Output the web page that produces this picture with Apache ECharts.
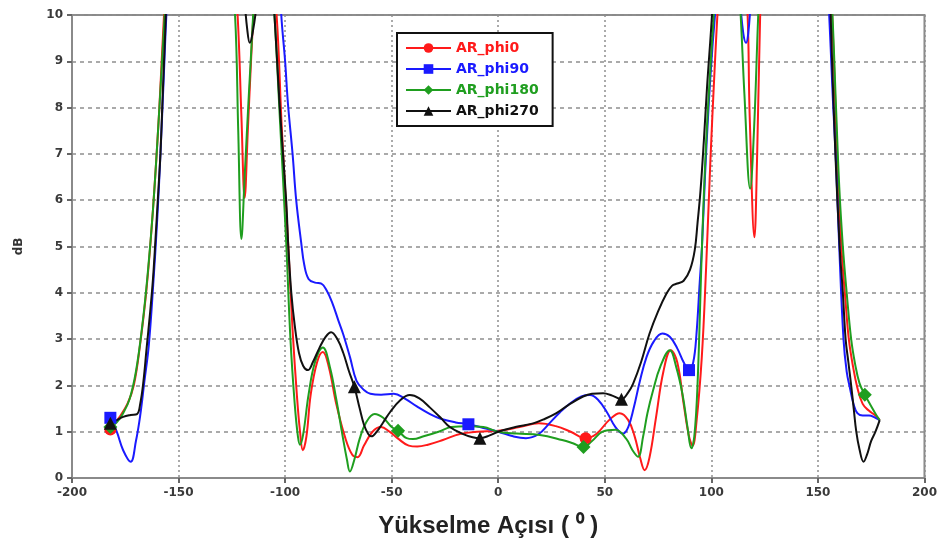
<!DOCTYPE html>
<html>
<head>
<meta charset="utf-8">
<script src="https://cdn.jsdelivr.net/npm/echarts@6/dist/echarts.min.js"></script>
<style>
  html, body { margin: 0; padding: 0; background: #fff; }
  #main { width: 940px; height: 545px; }
</style>
</head>
<body>
<div id="main"></div>
<script>
// elevation angle (deg) vs axial ratio (dB)
const seriesNames = ['AR_phi0', 'AR_phi90', 'AR_phi180', 'AR_phi270'];
const seriesColors = ['#ff1a1a', '#1a1aff', '#1f9e1f', '#111111'];
const seriesSymbols = ['circle', 'rect', 'diamond', 'triangle'];

const arPhi0 = [
  [-182, 1.05], [-178, 1.3], [-174, 1.6], [-171, 2.0], [-168, 2.9], [-165, 4.1], [-162, 5.8],
  [-159, 8.0], [-156.5, 10.3], [-154, 12], [-140, 13], [-126, 12.5], [-122.3, 10], [-120.5, 7.8],
  [-119, 6.05], [-117.5, 7.5], [-116, 9], [-114.5, 10.3], [-112, 12], [-108, 12], [-104, 10],
  [-101.5, 7.5], [-98.5, 5], [-96.5, 3.2], [-94.5, 1.8], [-93, 1.0], [-91.7, 0.6], [-90, 0.9],
  [-88, 1.8], [-85, 2.5], [-82.3, 2.72], [-79.5, 2.4], [-76, 1.6], [-72, 0.9], [-68.5, 0.5],
  [-66, 0.45], [-63, 0.7], [-59, 1.0], [-55, 1.1], [-51, 1.0], [-47, 0.85], [-42, 0.7],
  [-38, 0.68], [-33, 0.72], [-26, 0.82], [-18, 0.95], [-10, 1.0], [0, 1.02], [10, 1.1],
  [19, 1.18], [27, 1.12], [34, 1.0], [41, 0.86], [46, 0.95], [52, 1.25], [57, 1.4], [61, 1.25],
  [64, 0.9], [66.5, 0.45], [68.7, 0.17], [71, 0.45], [74, 1.3], [77.5, 2.3], [81, 2.76],
  [84, 2.5], [87, 1.6], [89.5, 0.9], [91.2, 0.7], [93, 1.2], [95.5, 2.6], [97.5, 4.5],
  [99.5, 6.8], [101.5, 8.8], [103.5, 10.5], [106, 12], [112, 12.5], [116.5, 10.5], [118, 7.8],
  [120.2, 5.2], [121.5, 7], [122.9, 10], [124.5, 12], [140, 13], [153, 12], [155.5, 11],
  [157.5, 9], [159, 7], [161, 5], [163, 3.8], [164.5, 3], [166.5, 2.4], [168.5, 1.95],
  [171, 1.6], [174, 1.45], [177, 1.35], [179, 1.25]
];
const arPhi90 = [
  [-182, 1.3], [-179, 1.0], [-176, 0.6], [-172.5, 0.35], [-170, 0.8], [-168, 1.35], [-166, 2.1],
  [-164, 2.85], [-162, 4.1], [-160, 5.6], [-158.5, 7.0], [-157, 8.6], [-155.5, 10.2], [-153, 12],
  [-140, 13], [-125, 13], [-112, 13], [-104, 12], [-101.8, 10], [-100, 9], [-98.7, 8.1],
  [-96.5, 7], [-94.8, 6], [-92.5, 5.1], [-91, 4.6], [-89, 4.3], [-86, 4.22], [-83, 4.2],
  [-80.5, 4.05], [-78, 3.8], [-75, 3.4], [-72.7, 3.1], [-69.5, 2.6], [-66.5, 2.1], [-63, 1.9],
  [-60, 1.82], [-55, 1.8], [-49, 1.82], [-44, 1.72], [-38, 1.54], [-32, 1.38], [-27, 1.28],
  [-20, 1.2], [-14, 1.16], [-7, 1.08], [0, 1.0], [7, 0.9], [13, 0.86], [19, 0.95], [24, 1.18],
  [29, 1.42], [34, 1.62], [39, 1.76], [43, 1.79], [47, 1.68], [51, 1.42], [55, 1.1],
  [58.5, 0.96], [61, 1.1], [63.5, 1.5], [66.5, 2.1], [69.5, 2.6], [73, 2.95], [77, 3.12],
  [80.5, 3.05], [84, 2.8], [87, 2.5], [89.5, 2.33], [91.5, 2.5], [93, 3.1], [94.5, 4.2],
  [95.6, 5], [97, 6.5], [98.8, 8.1], [100.5, 9.3], [102, 10.2], [104, 12], [110, 12.5],
  [113.5, 10.3], [115, 9.6], [116.3, 9.4], [117.3, 9.6], [118.5, 10.3], [121, 12], [140, 13],
  [153, 12], [155, 10.3], [157, 8.2], [158.5, 6.8], [160, 5], [162, 3], [163.5, 2.3],
  [165, 1.95], [166.7, 1.6], [168.5, 1.4], [171, 1.35], [174, 1.35], [177, 1.3], [179, 1.25]
];
const arPhi180 = [
  [-182, 1.1], [-179, 1.2], [-176, 1.4], [-173, 1.7], [-170, 2.3], [-167, 3.3], [-164.5, 4.4],
  [-162, 5.8], [-159.5, 7.6], [-157, 9.6], [-155.5, 10.8], [-153, 12], [-140, 13], [-127, 12],
  [-123.5, 10], [-122, 7.5], [-120.5, 5.16], [-119, 6.5], [-117, 8.3], [-115, 10], [-113, 12],
  [-108, 12], [-105, 10], [-102.5, 7.8], [-99.5, 5.1], [-97.5, 3], [-95.5, 1.6], [-94, 0.9],
  [-93, 0.72], [-91.5, 0.95], [-89, 1.8], [-86, 2.5], [-82.3, 2.82], [-79, 2.4], [-76, 1.7],
  [-73, 0.9], [-71, 0.4], [-69.6, 0.14], [-67.5, 0.4], [-65, 0.85], [-62, 1.2], [-58, 1.38],
  [-54, 1.3], [-50, 1.1], [-47, 1.02], [-43, 0.86], [-40, 0.84], [-35, 0.9], [-28, 1.0],
  [-22, 1.1], [-14, 1.12], [-7, 1.1], [0, 1.0], [8.6, 0.96], [19.5, 0.93], [30, 0.82],
  [35, 0.75], [40, 0.67], [44, 0.8], [49, 1.0], [55, 1.04], [60, 0.85], [63, 0.6], [65.6, 0.46],
  [68, 0.9], [70, 1.4], [72.7, 1.9], [76, 2.4], [80.5, 2.76], [83.5, 2.4], [86.5, 1.8],
  [88.8, 1.1], [90.6, 0.64], [92, 0.9], [93.5, 2], [95.6, 5], [97.5, 7.2], [100, 9.2],
  [101.5, 10.3], [103, 12], [110, 12.5], [113.5, 10.2], [115.5, 8.3], [118.2, 6.25], [120, 7.5],
  [122, 10], [124, 12], [140, 13], [154, 12], [156.5, 10.3], [158.5, 8], [160, 6.3],
  [161.7, 5], [163.5, 4], [165.6, 3], [167.5, 2.45], [169.5, 2.05], [172, 1.8], [175, 1.55],
  [177.5, 1.35], [179, 1.25]
];
const arPhi270 = [
  [-182, 1.18], [-179, 1.25], [-176, 1.32], [-172.5, 1.36], [-169.5, 1.38], [-168, 1.6],
  [-166.5, 2.08], [-165, 2.8], [-163.3, 3.6], [-162, 4.3], [-160.9, 5.1], [-159.5, 6.2],
  [-158.5, 7], [-157.5, 8.2], [-156.3, 9.6], [-155, 11], [-152, 12.5], [-135, 13], [-122, 12],
  [-119, 10.3], [-117.8, 9.7], [-116.6, 9.4], [-115.3, 9.6], [-113.5, 10.2], [-111, 12],
  [-108, 12], [-105, 10], [-102.5, 8], [-99.5, 6], [-98.5, 5], [-97.1, 4], [-95.5, 3.3],
  [-93.5, 2.7], [-91.5, 2.42], [-89.3, 2.33], [-87, 2.5], [-84, 2.8], [-81, 3.05], [-78.4, 3.15],
  [-75.5, 3.0], [-72.7, 2.7], [-70, 2.3], [-67.5, 1.97], [-65, 1.5], [-63, 1.15], [-61, 0.95],
  [-59.5, 0.9], [-57, 1.0], [-54, 1.2], [-50.8, 1.42], [-46, 1.68], [-41.5, 1.79], [-37, 1.72],
  [-32, 1.52], [-27, 1.3], [-22.7, 1.1], [-17, 0.96], [-12, 0.88], [-8.6, 0.86], [-4, 0.92],
  [0, 1.0], [8, 1.1], [16.4, 1.18], [22, 1.28], [27.3, 1.4], [33, 1.58], [39.8, 1.76],
  [44, 1.82], [49.2, 1.83], [53.5, 1.78], [57.8, 1.7], [61, 1.85], [63.3, 2.04], [67, 2.5],
  [71, 3.12], [75, 3.6], [78.9, 3.98], [81.5, 4.15], [84, 4.2], [87, 4.26], [90, 4.5],
  [92.2, 4.92], [93.5, 5.5], [94.9, 6.2], [96.5, 7.3], [98, 8.46], [100.3, 10], [102, 11.5],
  [105, 12.5], [140, 13], [153, 12], [155.5, 10.5], [156.5, 9.2], [158.2, 7], [160.2, 5],
  [161.7, 4], [163, 3], [164.3, 2.5], [165.6, 2], [166.8, 1.5], [168, 1.0], [169.5, 0.62],
  [171.4, 0.35], [173, 0.5], [175, 0.8], [177, 1.0], [179, 1.25]
];

// angles where the original plot puts a marker on each curve
const marks0 = [-182, 41];
const marks90 = [-182, -14, 89.5];
const marks180 = [-182, -47, 40, 172];
const marks270 = [-182, -67.5, -8.6, 57.8];

const allData = [arPhi0, arPhi90, arPhi180, arPhi270];
const allMarks = [marks0, marks90, marks180, marks270];
const symbolSizes = [12, 12, 14, 13];

function withMarks(points, marks) {
  return points.map(p => marks.includes(p[0]) ? { value: p } : { value: p, symbol: 'none' });
}

const chart = echarts.init(document.getElementById('main'));

const series = seriesNames.map((name, i) => ({
  name: name,
  type: 'line',
  data: withMarks(allData[i], allMarks[i]),
  smooth: 0.4,
  clip: true,
  symbol: seriesSymbols[i],
  symbolSize: symbolSizes[i],
  showSymbol: true,
  color: seriesColors[i],
  lineStyle: { width: 2, color: seriesColors[i] },
  itemStyle: { color: seriesColors[i] },
  emphasis: { disabled: true },
  animation: false
}));

chart.setOption({
  backgroundColor: '#fff',
  animation: false,
  grid: {
    left: 72, right: 14, top: 15, bottom: 67,
    show: true, borderColor: '#8a8a8a', borderWidth: 2
  },
  legend: {
    orient: 'vertical',
    left: 397, top: 33,
    padding: [8, 14, 8, 8],
    itemWidth: 45, itemHeight: 12, itemGap: 7,
    backgroundColor: '#fff',
    borderColor: '#111', borderWidth: 2,
    data: seriesNames.map((n, i) => ({
      name: n,
      textStyle: { color: seriesColors[i] }
    })),
    textStyle: { fontFamily: 'DejaVu Sans', fontWeight: 'bold', fontSize: 14 }
  },
  xAxis: {
    type: 'value',
    min: -200, max: 200, interval: 50,
    name: 'Yükselme Açısı ( ⁰ )',
    nameLocation: 'middle',
    nameGap: 36,
    nameTextStyle: {
      fontFamily: 'Liberation Sans', fontWeight: 'bold', fontSize: 24,
      color: '#222', padding: [0, 20, 0, 0]
    },
    axisLine: { show: true, onZero: false, lineStyle: { color: '#8a8a8a', width: 2 } },
    axisTick: { show: true, length: 5, lineStyle: { color: '#666', width: 2 } },
    axisLabel: {
      fontFamily: 'DejaVu Sans', fontWeight: 'bold', fontSize: 12, color: '#3a3a3a', margin: 9
    },
    splitLine: { show: true, lineStyle: { color: '#8f8f8f', width: 1.5, type: [2, 3] } }
  },
  yAxis: {
    type: 'value',
    min: 0, max: 10, interval: 1,
    name: 'dB',
    nameLocation: 'middle',
    nameGap: 47,
    nameTextStyle: { fontFamily: 'DejaVu Sans', fontWeight: 'bold', fontSize: 12, color: '#333' },
    axisLine: { show: true, onZero: false, lineStyle: { color: '#8a8a8a', width: 2 } },
    axisTick: { show: true, length: 5, lineStyle: { color: '#666', width: 2 } },
    axisLabel: {
      fontFamily: 'DejaVu Sans', fontWeight: 'bold', fontSize: 12, color: '#3a3a3a', margin: 9
    },
    splitLine: { show: true, lineStyle: { color: '#8f8f8f', width: 1.5, type: [4, 4] } }
  },
  series: series
});
</script>
</body>
</html>
